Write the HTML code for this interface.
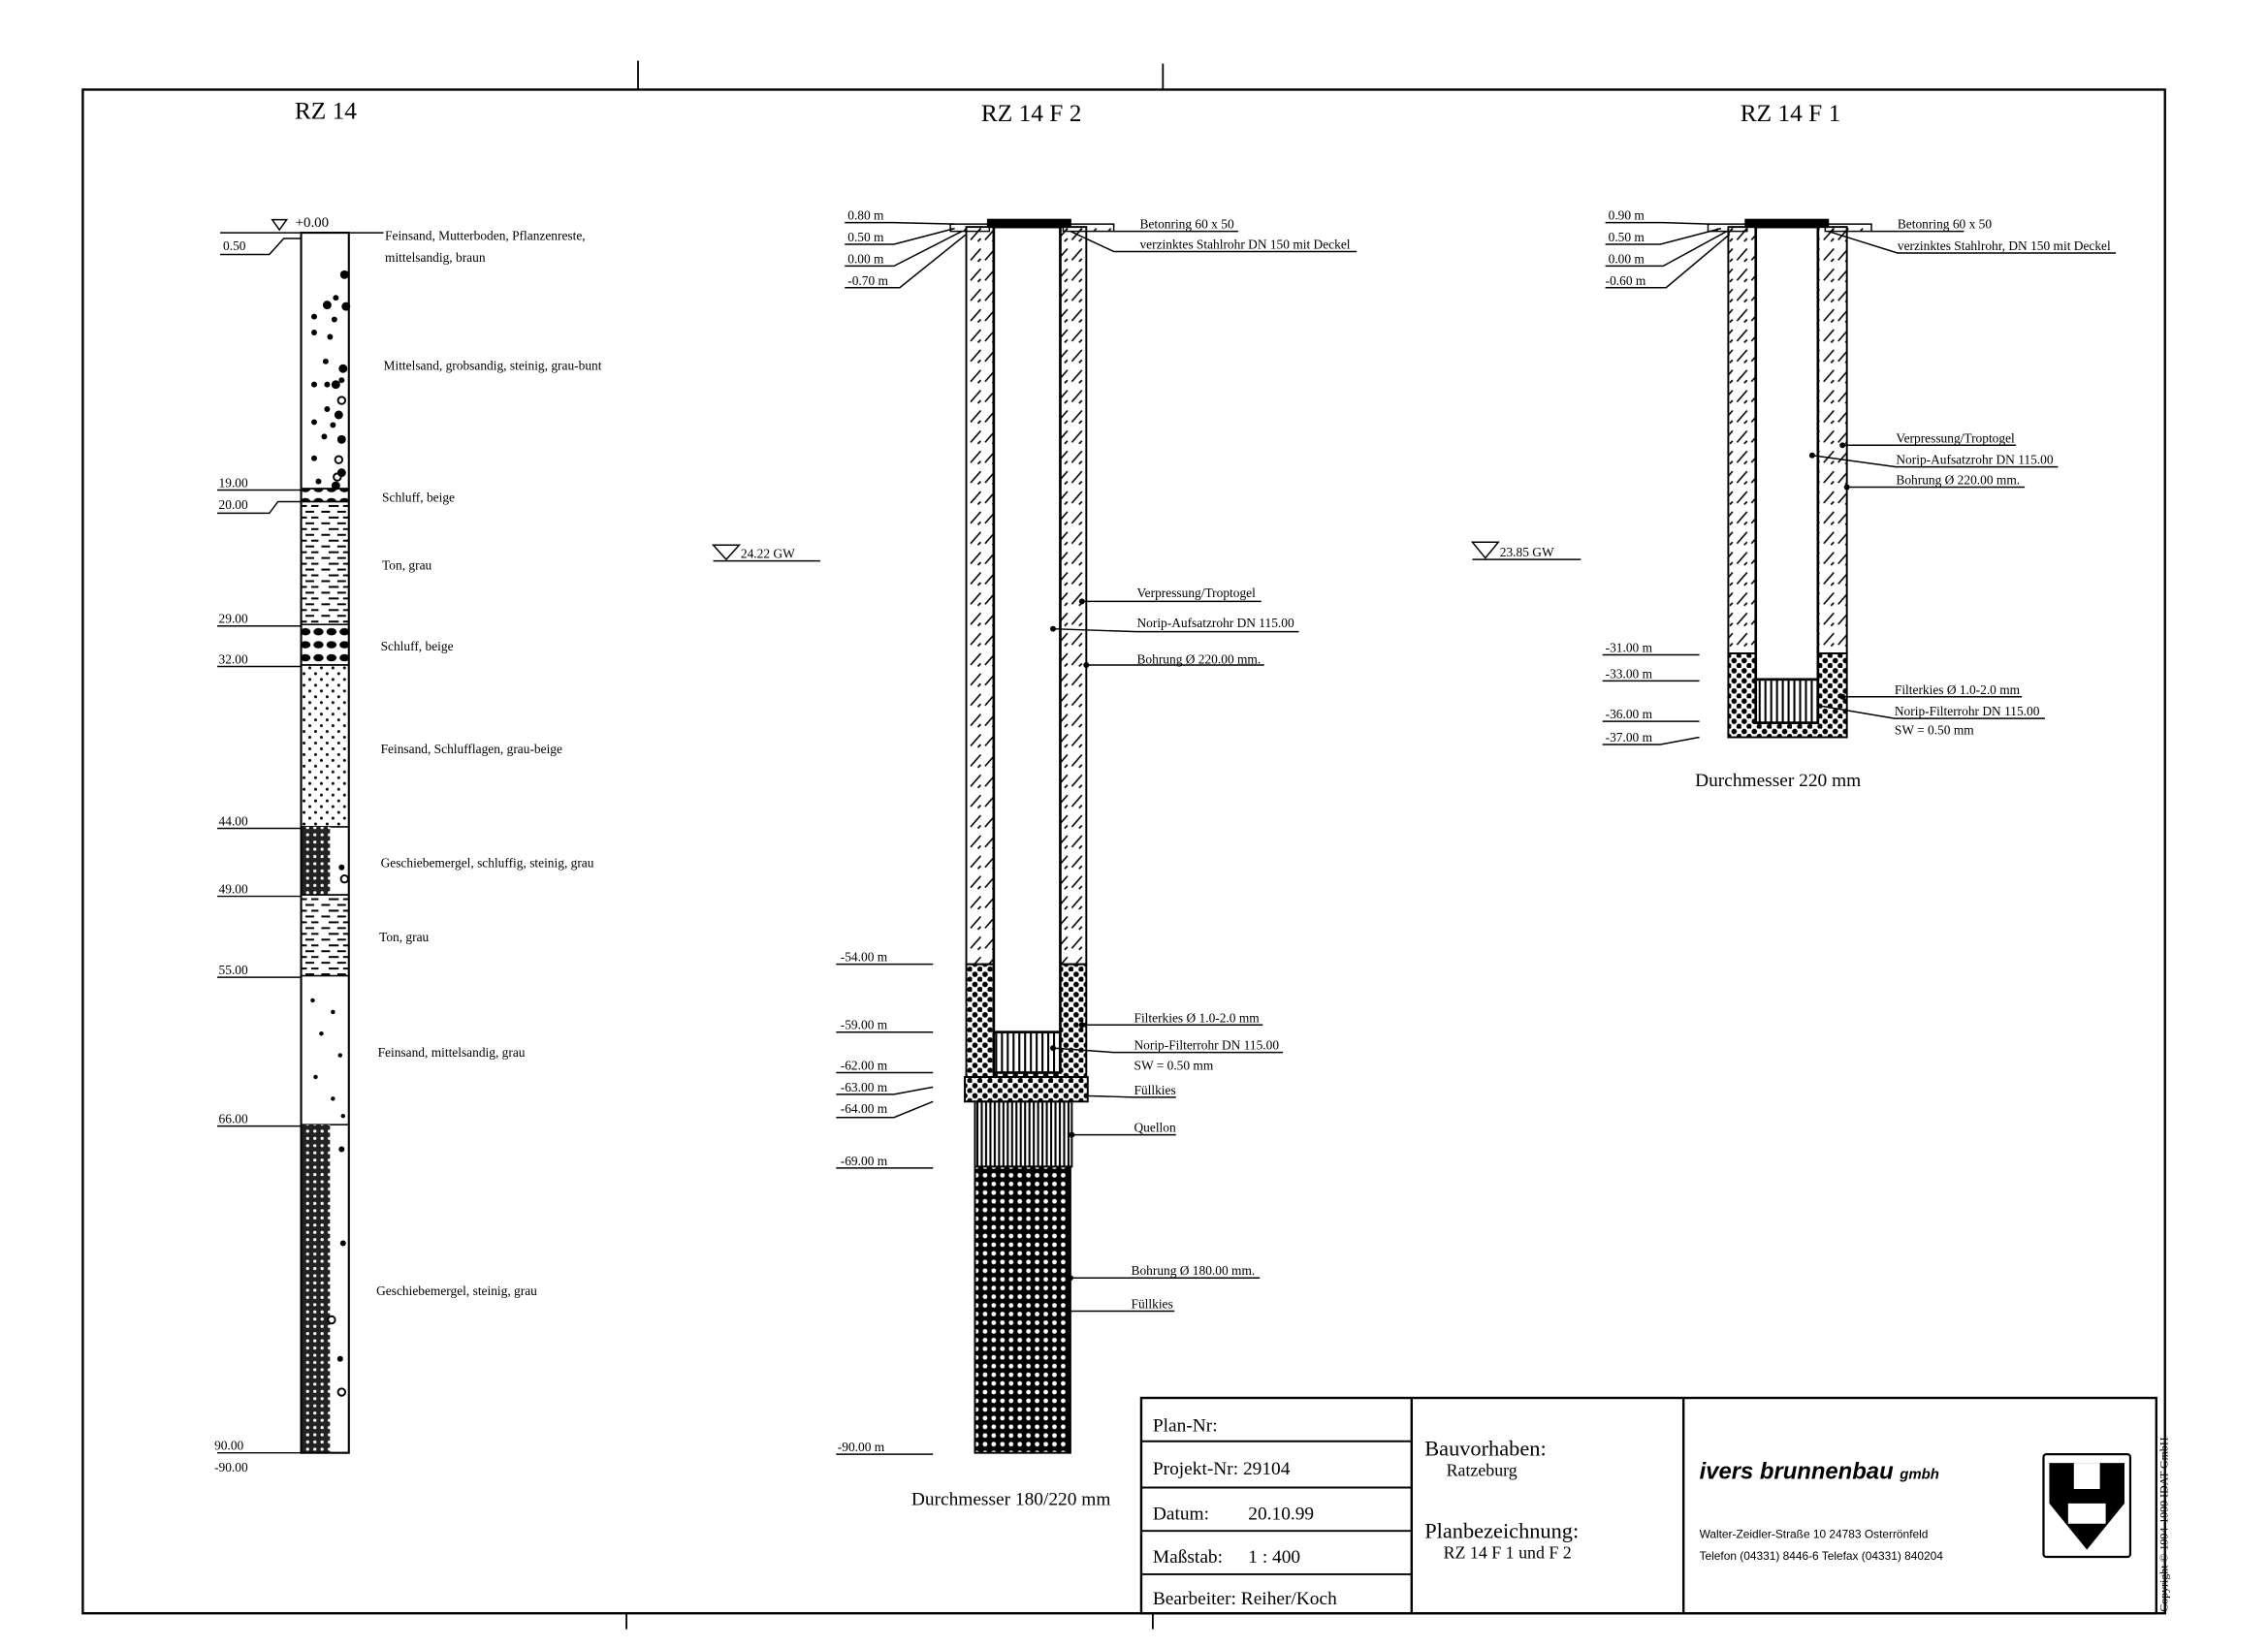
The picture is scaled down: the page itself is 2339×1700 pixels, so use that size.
<!DOCTYPE html>
<html><head><meta charset="utf-8"><style>
html,body{margin:0;padding:0;background:#fff;}
svg{display:block;}
text{font-family:"Liberation Serif",serif;fill:#000;}
</style></head><body>
<svg width="2339" height="1700" viewBox="0 0 1568 1140" xmlns="http://www.w3.org/2000/svg">
<defs>
<pattern id="hatch" width="10" height="14" patternUnits="userSpaceOnUse">
<path d="M1 12 L8 4" stroke="#000" stroke-width="1.1"/><path d="M6 13 L8 11" stroke="#000" stroke-width="1.1"/>
</pattern>
<pattern id="gravel" width="7" height="7" patternUnits="userSpaceOnUse">
<circle cx="2" cy="2" r="1.9" fill="#000"/><circle cx="5.5" cy="5.5" r="1.9" fill="#000"/>
</pattern>
<pattern id="fill2" width="6" height="6" patternUnits="userSpaceOnUse">
<rect width="6" height="6" fill="#000"/><circle cx="3" cy="3" r="1.6" fill="#fff"/>
</pattern>
<pattern id="vlines" width="3" height="10" patternUnits="userSpaceOnUse">
<rect x="0" y="0" width="1.4" height="10" fill="#000"/>
</pattern>
<pattern id="vlines2" width="4" height="10" patternUnits="userSpaceOnUse">
<rect width="4" height="10" fill="#fff"/><rect x="0" y="0" width="1.4" height="10" fill="#000"/>
</pattern>
<pattern id="dash" width="22" height="8" patternUnits="userSpaceOnUse">
<path d="M2 2 H8 M13 2 H19 M7 6 H14 M17 6 H22" stroke="#000" stroke-width="1.4"/>
</pattern>
<pattern id="smalldots" width="8" height="8" patternUnits="userSpaceOnUse">
<circle cx="2" cy="2" r="1" fill="#000"/><circle cx="6" cy="6" r="1" fill="#000"/>
</pattern>
<pattern id="blobs" width="9" height="9" patternUnits="userSpaceOnUse">
<ellipse cx="4" cy="5" rx="3.5" ry="2.5" fill="#000"/>
</pattern>
<pattern id="mergel" width="5" height="5" patternUnits="userSpaceOnUse">
<rect width="5" height="5" fill="#222"/><circle cx="2.5" cy="2.5" r="1.1" fill="#fff"/>
</pattern>
</defs>

<rect x="57" y="62" width="1440" height="1054" fill="none" stroke="#000" stroke-width="1.6"/>
<path d="M441 42 V62 M804 44 V62 M433 1116 V1127 M797 1116 V1127" stroke="#000" stroke-width="1.2"/>

<text x="225" y="82" font-size="17" text-anchor="middle">RZ 14</text>
<text x="713" y="84" font-size="17" text-anchor="middle">RZ 14 F 2</text>
<text x="1238" y="84" font-size="17" text-anchor="middle">RZ 14 F 1</text>

<g stroke="#000">
<rect x="208" y="161" width="33" height="177" fill="#fff"/>
<rect x="208" y="338" width="33" height="9" fill="url(#blobs)"/>
<rect x="208" y="347" width="33" height="85" fill="url(#dash)"/>
<rect x="208" y="432" width="33" height="28" fill="url(#blobs)"/>
<rect x="208" y="460" width="33" height="112" fill="url(#smalldots)"/>
<rect x="208" y="572" width="33" height="47" fill="#fff"/>
<rect x="208" y="572" width="20" height="47" fill="url(#mergel)" stroke="none"/>
<rect x="208" y="619" width="33" height="56" fill="url(#dash)"/>
<rect x="208" y="675" width="33" height="103" fill="#fff"/>
<rect x="208" y="778" width="33" height="227" fill="#fff"/>
<rect x="208" y="778" width="20" height="227" fill="url(#mergel)" stroke="none"/>
<rect x="208" y="161" width="33" height="844" fill="none" stroke-width="1.4"/>
</g>
<g fill="#000">
<circle cx="238" cy="190" r="3"/><circle cx="232" cy="206" r="2"/><circle cx="226" cy="211" r="3"/><circle cx="239" cy="212" r="3"/>
<circle cx="217" cy="219" r="2"/><circle cx="231" cy="221" r="2"/><circle cx="217" cy="230" r="2"/><circle cx="228" cy="233" r="2"/>
<circle cx="225" cy="250" r="2"/><circle cx="237" cy="255" r="3"/><circle cx="236" cy="263" r="2"/><circle cx="217" cy="266" r="2"/>
<circle cx="226" cy="266" r="2"/><circle cx="232" cy="266" r="3"/><circle cx="226" cy="283" r="2"/><circle cx="234" cy="287" r="3"/>
<circle cx="217" cy="292" r="2"/><circle cx="230" cy="294" r="2"/><circle cx="224" cy="302" r="2"/><circle cx="236" cy="304" r="3"/>
<circle cx="217" cy="317" r="2"/><circle cx="236" cy="327" r="3"/><circle cx="220" cy="333" r="2"/><circle cx="232" cy="336" r="3"/>
<circle cx="216" cy="692" r="1.5"/><circle cx="230" cy="700" r="1.5"/><circle cx="222" cy="715" r="1.5"/><circle cx="235" cy="730" r="1.5"/>
<circle cx="218" cy="745" r="1.5"/><circle cx="230" cy="760" r="1.5"/><circle cx="237" cy="772" r="1.5"/>
<circle cx="236" cy="795" r="2"/><circle cx="237" cy="860" r="2"/><circle cx="235" cy="940" r="2"/><circle cx="236" cy="600" r="2"/>
</g>
<g fill="none" stroke="#000" stroke-width="1.3">
<circle cx="234" cy="318" r="2.5"/><circle cx="233" cy="330" r="2.5"/><circle cx="236" cy="277" r="2.5"/><circle cx="229" cy="913" r="2.5"/><circle cx="236" cy="963" r="2.5"/><circle cx="238" cy="608" r="2.5"/>
</g>
<g stroke="#000" stroke-width="1" fill="none">
<path d="M152 161 H265"/><path d="M188 152 H198 L193 159 Z"/>
<path d="M152 176 H186 L196 165 H208"/>
<path d="M150 339 H208 M150 355 H186 L192 347 H208 M150 433 H208 M150 461 H208 M150 573 H208 M150 620 H208 M150 676 H208 M150 779 H208 M150 1005 H208"/>
</g>
<g font-size="9">
<text x="204" y="157" font-size="10">+0.00</text>
<text x="154" y="173">0.50</text>
<text x="151" y="337">19.00</text><text x="151" y="352">20.00</text><text x="151" y="431">29.00</text><text x="151" y="459">32.00</text>
<text x="151" y="571">44.00</text><text x="151" y="618">49.00</text><text x="151" y="674">55.00</text><text x="151" y="777">66.00</text>
<text x="148" y="1003">90.00</text><text x="148" y="1018">-90.00</text>
<text x="266" y="166">Feinsand, Mutterboden, Pflanzenreste,</text>
<text x="266" y="181">mittelsandig, braun</text>
<text x="265" y="256">Mittelsand, grobsandig, steinig, grau-bunt</text>
<text x="264" y="347">Schluff, beige</text>
<text x="264" y="394">Ton, grau</text>
<text x="263" y="450">Schluff, beige</text>
<text x="263" y="521">Feinsand, Schlufflagen, grau-beige</text>
<text x="263" y="600">Geschiebemergel, schluffig, steinig, grau</text>
<text x="262" y="651">Ton, grau</text>
<text x="261" y="731">Feinsand, mittelsandig, grau</text>
<text x="260" y="896">Geschiebemergel, steinig, grau</text>
</g>

<g stroke="#000" stroke-width="1.3">
<rect x="668" y="157" width="19" height="510" fill="url(#hatch)"/>
<rect x="733" y="157" width="18" height="510" fill="url(#hatch)"/>
<rect x="668" y="667" width="83" height="78" fill="url(#gravel)"/>
<rect x="687" y="157" width="46" height="557" fill="#fff" stroke-width="1.8"/>
<rect x="687" y="714" width="46" height="28" fill="url(#vlines2)" stroke-width="1.8"/>
<rect x="667" y="745" width="85" height="17" fill="url(#gravel)"/>
<rect x="674" y="762" width="67" height="45" fill="url(#vlines)"/>
<rect x="674" y="807" width="66" height="198" fill="url(#fill2)"/>
<rect x="683" y="152" width="57" height="5" fill="#000"/>
<rect x="657" y="155" width="27" height="5" fill="url(#hatch)" stroke-width="1"/>
<rect x="735" y="155" width="35" height="5" fill="url(#hatch)" stroke-width="1"/>
</g>
<g stroke="#000" stroke-width="1" fill="none">
<path d="M584 154 H618 L660 155"/><path d="M584 169 H618 L660 158"/><path d="M584 184 H618 L665 160"/><path d="M584 199 H622 L668 162"/>
<path d="M578 667 H645 M578 714 H645 M578 742 H645 M578 757 H618 L645 752 M578 773 H618 L645 762 M578 808 H645 M578 1006 H645"/>
<path d="M493 377 H511 L502 387 Z"/><path d="M493 388 H567"/>
<path d="M770 160 H856"/><path d="M740 160 L770 174 H938"/>
<path d="M748 416 H872"/><path d="M728 435 L786 437 H898"/><path d="M751 460 H874"/>
<path d="M748 709 H873"/><path d="M728 725 L770 728 H887"/><path d="M750 758 L784 759 H813"/>
<path d="M741 785 H813"/><path d="M740 884 H871"/><path d="M740 907 H812"/>
</g>
<g fill="#000"><circle cx="748" cy="416" r="2"/><circle cx="728" cy="435" r="2"/><circle cx="751" cy="460" r="2"/><circle cx="748" cy="709" r="2"/><circle cx="728" cy="725" r="2"/><circle cx="741" cy="785" r="2"/><circle cx="740" cy="884" r="2"/></g>
<g font-size="9">
<text x="586" y="152">0.80  m</text><text x="586" y="167">0.50  m</text><text x="586" y="182">0.00  m</text><text x="586" y="197">-0.70  m</text>
<text x="581" y="665">-54.00  m</text><text x="581" y="712">-59.00  m</text><text x="581" y="740">-62.00  m</text><text x="581" y="755">-63.00  m</text><text x="581" y="770">-64.00  m</text><text x="581" y="806">-69.00  m</text><text x="579" y="1004">-90.00  m</text>
<text x="512" y="386">24.22 GW</text>
<text x="788" y="158">Betonring 60 x 50</text>
<text x="788" y="172">verzinktes Stahlrohr DN 150 mit Deckel</text>
<text x="786" y="413">Verpressung/Troptogel</text>
<text x="786" y="434">Norip-Aufsatzrohr DN 115.00</text>
<text x="786" y="459">Bohrung Ø 220.00 mm.</text>
<text x="784" y="707">Filterkies Ø 1.0-2.0 mm</text>
<text x="784" y="726">Norip-Filterrohr DN 115.00</text>
<text x="784" y="740">SW = 0.50 mm</text>
<text x="784" y="757">Füllkies</text>
<text x="784" y="783">Quellon</text>
<text x="782" y="882">Bohrung Ø 180.00 mm.</text>
<text x="782" y="905">Füllkies</text>
</g>
<text x="630" y="1041" font-size="13">Durchmesser 180/220 mm</text>

<g stroke="#000" stroke-width="1.3">
<rect x="1195" y="157" width="19" height="295" fill="url(#hatch)"/>
<rect x="1257" y="157" width="20" height="295" fill="url(#hatch)"/>
<rect x="1195" y="452" width="82" height="58" fill="url(#gravel)"/>
<rect x="1214" y="157" width="43" height="313" fill="#fff" stroke-width="1.8"/>
<rect x="1214" y="470" width="43" height="30" fill="url(#vlines2)" stroke-width="1.8"/>
<rect x="1207" y="152" width="57" height="5" fill="#000"/>
<rect x="1181" y="155" width="27" height="5" fill="url(#hatch)" stroke-width="1"/>
<rect x="1262" y="155" width="32" height="5" fill="url(#hatch)" stroke-width="1"/>
</g>
<g stroke="#000" stroke-width="1" fill="none">
<path d="M1110 154 H1150 L1182 155"/><path d="M1110 169 H1148 L1190 158"/><path d="M1110 184 H1150 L1194 160"/><path d="M1110 199 H1152 L1196 162"/>
<path d="M1108 453 H1175 M1108 471 H1175 M1108 499 H1175 M1108 515 H1148 L1175 510"/>
<path d="M1018 375 H1036 L1027 386 Z"/><path d="M1018 387 H1093"/>
<path d="M1294 160 H1358"/><path d="M1264 160 L1312 175 H1463"/>
<path d="M1274 308 H1394"/><path d="M1253 315 L1311 323 H1423"/><path d="M1277 337 H1400"/>
<path d="M1274 482 H1398"/><path d="M1257 488 L1310 497 H1414"/>
</g>
<g fill="#000"><circle cx="1274" cy="308" r="2"/><circle cx="1253" cy="315" r="2"/><circle cx="1277" cy="337" r="2"/><circle cx="1274" cy="482" r="2"/></g>
<g font-size="9">
<text x="1112" y="152">0.90  m</text><text x="1112" y="167">0.50  m</text><text x="1112" y="182">0.00  m</text><text x="1110" y="197">-0.60  m</text>
<text x="1110" y="451">-31.00  m</text><text x="1110" y="469">-33.00  m</text><text x="1110" y="497">-36.00  m</text><text x="1110" y="513">-37.00  m</text>
<text x="1037" y="385">23.85 GW</text>
<text x="1312" y="158">Betonring 60 x 50</text>
<text x="1312" y="173">verzinktes Stahlrohr, DN 150 mit Deckel</text>
<text x="1311" y="306">Verpressung/Troptogel</text>
<text x="1311" y="321">Norip-Aufsatzrohr DN 115.00</text>
<text x="1311" y="335">Bohrung Ø 220.00 mm.</text>
<text x="1310" y="480">Filterkies Ø 1.0-2.0 mm</text>
<text x="1310" y="495">Norip-Filterrohr DN 115.00</text>
<text x="1310" y="508">SW = 0.50 mm</text>
</g>
<text x="1172" y="544" font-size="13">Durchmesser  220 mm</text>

<g stroke="#000" stroke-width="1.6" fill="none">
<rect x="789" y="967" width="702" height="149"/>
<path d="M976 967 V1116 M1164 967 V1116"/>
<path d="M789 997 H976 M789 1029 H976 M789 1059 H976 M789 1089 H976" stroke-width="1.3"/>
</g>
<g font-size="13">
<text x="797" y="990">Plan-Nr:</text>
<text x="797" y="1020">Projekt-Nr:  29104</text>
<text x="797" y="1051">Datum:</text><text x="863" y="1051">20.10.99</text>
<text x="797" y="1081">Maßstab:</text><text x="863" y="1081">1 : 400</text>
<text x="797" y="1110">Bearbeiter:  Reiher/Koch</text>
</g>
<text x="985" y="1007" font-size="15">Bauvorhaben:</text>
<text x="1000" y="1021" font-size="12">Ratzeburg</text>
<text x="985" y="1064" font-size="15">Planbezeichnung:</text>
<text x="998" y="1078" font-size="12">RZ 14  F 1 und F 2</text>
<text x="1175" y="1023" font-size="16" font-weight="bold" font-style="italic" style="font-family:'Liberation Sans',sans-serif">ivers brunnenbau <tspan font-size="10">gmbh</tspan></text>
<text x="1175" y="1064" font-size="8" style="font-family:'Liberation Sans',sans-serif">Walter-Zeidler-Straße 10    24783 Osterrönfeld</text>
<text x="1175" y="1079" font-size="8" style="font-family:'Liberation Sans',sans-serif">Telefon (04331) 8446-6    Telefax (04331) 840204</text>
<rect x="1413" y="1006" width="60" height="71" fill="none" stroke="#000" stroke-width="1.5" rx="2"/>
<path d="M1417 1012 H1469 V1040 L1443 1072 L1417 1040 Z" fill="#000"/>
<path d="M1434 1012 H1452 V1030 H1434 Z M1430 1040 H1456 V1054 H1430 Z" fill="#fff"/>
<text transform="translate(1499,1115) rotate(-90)" font-size="8">Copyright © 1994-1999 IDAT GmbH</text>
</svg>
</body></html>
